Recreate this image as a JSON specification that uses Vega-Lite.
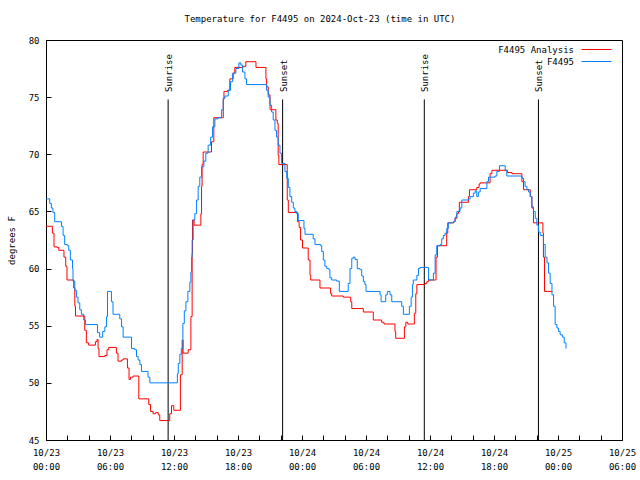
{
  "$schema": "https://vega.github.io/schema/vega-lite/v6.json",
  "width": 576,
  "height": 400,
  "autosize": {"type": "none"},
  "padding": {"left": 46, "top": 40, "right": 18, "bottom": 40},
  "background": "white",
  "title": {"text": "Temperature for F4495 on 2024-Oct-23 (time in UTC)", "fontSize": 9, "fontWeight": "normal", "color": "black", "anchor": "middle", "frame": "group", "dx": -14, "baseline": "alphabetic", "offset": 5},
  "config": {
    "font": "DejaVu Sans Mono",
    "view": {"stroke": "black", "strokeWidth": 1},
    "axis": {"grid": false, "domainColor": "black", "tickColor": "black", "labelColor": "black", "labelFontSize": 9, "titleFontSize": 9, "titleFontWeight": "normal", "titleColor": "black"}
  },
  "datasets": {
    "sun": [
      {"time": "2024-10-23T11:27:00Z", "event": "Sunrise"},
      {"time": "2024-10-23T22:11:00Z", "event": "Sunset"},
      {"time": "2024-10-24T11:28:00Z", "event": "Sunrise"},
      {"time": "2024-10-24T22:10:00Z", "event": "Sunset"}
    ],
    "analysis": [
      {"time": "2024-10-23T00:00:00Z", "temp": 63.7},
      {"time": "2024-10-23T00:36:00Z", "temp": 63.1},
      {"time": "2024-10-23T00:45:00Z", "temp": 61.9},
      {"time": "2024-10-23T01:02:00Z", "temp": 61.85},
      {"time": "2024-10-23T01:12:00Z", "temp": 61.6},
      {"time": "2024-10-23T01:41:00Z", "temp": 61.0},
      {"time": "2024-10-23T01:51:00Z", "temp": 60.2},
      {"time": "2024-10-23T01:58:00Z", "temp": 59.0},
      {"time": "2024-10-23T02:36:00Z", "temp": 58.3},
      {"time": "2024-10-23T02:42:00Z", "temp": 56.7},
      {"time": "2024-10-23T02:46:00Z", "temp": 55.85},
      {"time": "2024-10-23T03:38:00Z", "temp": 54.6},
      {"time": "2024-10-23T03:47:00Z", "temp": 53.5},
      {"time": "2024-10-23T04:00:00Z", "temp": 53.3},
      {"time": "2024-10-23T04:38:00Z", "temp": 53.6},
      {"time": "2024-10-23T04:47:00Z", "temp": 53.8},
      {"time": "2024-10-23T04:53:00Z", "temp": 53.0},
      {"time": "2024-10-23T04:58:00Z", "temp": 52.3},
      {"time": "2024-10-23T05:31:00Z", "temp": 52.4},
      {"time": "2024-10-23T05:43:00Z", "temp": 52.9},
      {"time": "2024-10-23T05:53:00Z", "temp": 53.1},
      {"time": "2024-10-23T06:36:00Z", "temp": 52.6},
      {"time": "2024-10-23T06:45:00Z", "temp": 51.9},
      {"time": "2024-10-23T07:05:00Z", "temp": 52.0},
      {"time": "2024-10-23T07:14:00Z", "temp": 52.1},
      {"time": "2024-10-23T07:38:00Z", "temp": 51.3},
      {"time": "2024-10-23T07:47:00Z", "temp": 50.3},
      {"time": "2024-10-23T07:55:00Z", "temp": 50.5},
      {"time": "2024-10-23T08:10:00Z", "temp": 50.6},
      {"time": "2024-10-23T08:42:00Z", "temp": 48.6},
      {"time": "2024-10-23T09:38:00Z", "temp": 48.1},
      {"time": "2024-10-23T09:48:00Z", "temp": 47.5},
      {"time": "2024-10-23T10:02:00Z", "temp": 47.3},
      {"time": "2024-10-23T10:16:00Z", "temp": 47.4},
      {"time": "2024-10-23T10:31:00Z", "temp": 47.2},
      {"time": "2024-10-23T10:40:00Z", "temp": 46.7},
      {"time": "2024-10-23T11:36:00Z", "temp": 47.3},
      {"time": "2024-10-23T11:46:00Z", "temp": 48.0},
      {"time": "2024-10-23T11:59:00Z", "temp": 47.6},
      {"time": "2024-10-23T12:36:00Z", "temp": 50.7},
      {"time": "2024-10-23T12:46:00Z", "temp": 53.75},
      {"time": "2024-10-23T12:51:00Z", "temp": 52.6},
      {"time": "2024-10-23T13:20:00Z", "temp": 52.9},
      {"time": "2024-10-23T13:35:00Z", "temp": 55.8},
      {"time": "2024-10-23T13:42:00Z", "temp": 61.3},
      {"time": "2024-10-23T13:44:00Z", "temp": 64.25},
      {"time": "2024-10-23T13:53:00Z", "temp": 63.8},
      {"time": "2024-10-23T14:31:00Z", "temp": 64.8},
      {"time": "2024-10-23T14:35:00Z", "temp": 67.2},
      {"time": "2024-10-23T14:38:00Z", "temp": 69.1},
      {"time": "2024-10-23T14:44:00Z", "temp": 70.2},
      {"time": "2024-10-23T15:31:00Z", "temp": 71.1},
      {"time": "2024-10-23T15:44:00Z", "temp": 73.2},
      {"time": "2024-10-23T16:37:00Z", "temp": 74.8},
      {"time": "2024-10-23T16:41:00Z", "temp": 75.5},
      {"time": "2024-10-23T17:01:00Z", "temp": 75.6},
      {"time": "2024-10-23T17:14:00Z", "temp": 76.6},
      {"time": "2024-10-23T17:33:00Z", "temp": 77.1},
      {"time": "2024-10-23T17:42:00Z", "temp": 77.6},
      {"time": "2024-10-23T18:29:00Z", "temp": 77.7},
      {"time": "2024-10-23T18:44:00Z", "temp": 78.1},
      {"time": "2024-10-23T19:41:00Z", "temp": 77.6},
      {"time": "2024-10-23T20:37:00Z", "temp": 76.6},
      {"time": "2024-10-23T20:41:00Z", "temp": 75.9},
      {"time": "2024-10-23T20:50:00Z", "temp": 75.2},
      {"time": "2024-10-23T21:00:00Z", "temp": 73.9},
      {"time": "2024-10-23T21:33:00Z", "temp": 73.0},
      {"time": "2024-10-23T21:41:00Z", "temp": 72.7},
      {"time": "2024-10-23T21:46:00Z", "temp": 69.9},
      {"time": "2024-10-23T21:50:00Z", "temp": 69.1},
      {"time": "2024-10-23T22:37:00Z", "temp": 66.0},
      {"time": "2024-10-23T22:43:00Z", "temp": 64.9},
      {"time": "2024-10-23T23:35:00Z", "temp": 64.1},
      {"time": "2024-10-23T23:44:00Z", "temp": 63.6},
      {"time": "2024-10-23T23:52:00Z", "temp": 62.5},
      {"time": "2024-10-24T00:03:00Z", "temp": 61.8},
      {"time": "2024-10-24T00:35:00Z", "temp": 60.75},
      {"time": "2024-10-24T00:45:00Z", "temp": 59.4},
      {"time": "2024-10-24T00:49:00Z", "temp": 59.0},
      {"time": "2024-10-24T01:41:00Z", "temp": 58.3},
      {"time": "2024-10-24T02:41:00Z", "temp": 57.8},
      {"time": "2024-10-24T02:47:00Z", "temp": 57.6},
      {"time": "2024-10-24T03:52:00Z", "temp": 57.5},
      {"time": "2024-10-24T04:34:00Z", "temp": 57.1},
      {"time": "2024-10-24T04:40:00Z", "temp": 56.5},
      {"time": "2024-10-24T05:45:00Z", "temp": 56.2},
      {"time": "2024-10-24T06:41:00Z", "temp": 55.5},
      {"time": "2024-10-24T07:28:00Z", "temp": 55.3},
      {"time": "2024-10-24T07:41:00Z", "temp": 55.15},
      {"time": "2024-10-24T08:43:00Z", "temp": 54.5},
      {"time": "2024-10-24T08:47:00Z", "temp": 53.9},
      {"time": "2024-10-24T09:36:00Z", "temp": 54.9},
      {"time": "2024-10-24T09:44:00Z", "temp": 55.3},
      {"time": "2024-10-24T09:55:00Z", "temp": 55.15},
      {"time": "2024-10-24T10:32:00Z", "temp": 56.1},
      {"time": "2024-10-24T10:40:00Z", "temp": 57.8},
      {"time": "2024-10-24T10:46:00Z", "temp": 58.6},
      {"time": "2024-10-24T11:32:00Z", "temp": 58.7},
      {"time": "2024-10-24T11:42:00Z", "temp": 58.85},
      {"time": "2024-10-24T11:51:00Z", "temp": 59.0},
      {"time": "2024-10-24T12:34:00Z", "temp": 61.0},
      {"time": "2024-10-24T12:42:00Z", "temp": 62.0},
      {"time": "2024-10-24T13:34:00Z", "temp": 63.1},
      {"time": "2024-10-24T13:40:00Z", "temp": 64.0},
      {"time": "2024-10-24T14:12:00Z", "temp": 64.1},
      {"time": "2024-10-24T14:21:00Z", "temp": 64.4},
      {"time": "2024-10-24T14:31:00Z", "temp": 64.8},
      {"time": "2024-10-24T14:40:00Z", "temp": 65.0},
      {"time": "2024-10-24T14:45:00Z", "temp": 65.8},
      {"time": "2024-10-24T15:36:00Z", "temp": 66.3},
      {"time": "2024-10-24T15:42:00Z", "temp": 66.9},
      {"time": "2024-10-24T16:23:00Z", "temp": 67.1},
      {"time": "2024-10-24T16:36:00Z", "temp": 67.4},
      {"time": "2024-10-24T16:42:00Z", "temp": 67.5},
      {"time": "2024-10-24T17:38:00Z", "temp": 68.3},
      {"time": "2024-10-24T17:48:00Z", "temp": 68.6},
      {"time": "2024-10-24T19:16:00Z", "temp": 68.4},
      {"time": "2024-10-24T19:41:00Z", "temp": 68.3},
      {"time": "2024-10-24T20:37:00Z", "temp": 67.6},
      {"time": "2024-10-24T20:46:00Z", "temp": 66.9},
      {"time": "2024-10-24T21:24:00Z", "temp": 66.3},
      {"time": "2024-10-24T21:33:00Z", "temp": 65.3},
      {"time": "2024-10-24T21:42:00Z", "temp": 64.0},
      {"time": "2024-10-24T22:35:00Z", "temp": 63.1},
      {"time": "2024-10-24T22:38:00Z", "temp": 61.0},
      {"time": "2024-10-24T22:44:00Z", "temp": 58.0},
      {"time": "2024-10-24T23:29:00Z", "temp": 58.0}
    ],
    "obs": [
      {"time": "2024-10-23T00:00:00Z", "temp": 66.1},
      {"time": "2024-10-23T00:21:00Z", "temp": 65.7},
      {"time": "2024-10-23T00:30:00Z", "temp": 65.3},
      {"time": "2024-10-23T00:39:00Z", "temp": 64.9},
      {"time": "2024-10-23T00:49:00Z", "temp": 64.1},
      {"time": "2024-10-23T01:27:00Z", "temp": 63.7},
      {"time": "2024-10-23T01:36:00Z", "temp": 62.9},
      {"time": "2024-10-23T01:45:00Z", "temp": 62.1},
      {"time": "2024-10-23T02:00:00Z", "temp": 62.0},
      {"time": "2024-10-23T02:08:00Z", "temp": 61.6},
      {"time": "2024-10-23T02:17:00Z", "temp": 60.75},
      {"time": "2024-10-23T02:29:00Z", "temp": 60.0},
      {"time": "2024-10-23T02:32:00Z", "temp": 58.9},
      {"time": "2024-10-23T02:42:00Z", "temp": 58.1},
      {"time": "2024-10-23T02:51:00Z", "temp": 57.5},
      {"time": "2024-10-23T03:00:00Z", "temp": 57.0},
      {"time": "2024-10-23T03:10:00Z", "temp": 56.4},
      {"time": "2024-10-23T03:19:00Z", "temp": 56.0},
      {"time": "2024-10-23T03:32:00Z", "temp": 55.5},
      {"time": "2024-10-23T03:42:00Z", "temp": 55.1},
      {"time": "2024-10-23T04:50:00Z", "temp": 54.4},
      {"time": "2024-10-23T05:02:00Z", "temp": 54.0},
      {"time": "2024-10-23T05:19:00Z", "temp": 54.5},
      {"time": "2024-10-23T05:31:00Z", "temp": 54.9},
      {"time": "2024-10-23T05:40:00Z", "temp": 55.8},
      {"time": "2024-10-23T05:46:00Z", "temp": 58.0},
      {"time": "2024-10-23T06:08:00Z", "temp": 57.1},
      {"time": "2024-10-23T06:17:00Z", "temp": 56.0},
      {"time": "2024-10-23T06:55:00Z", "temp": 55.6},
      {"time": "2024-10-23T07:05:00Z", "temp": 54.9},
      {"time": "2024-10-23T07:14:00Z", "temp": 54.0},
      {"time": "2024-10-23T08:01:00Z", "temp": 53.0},
      {"time": "2024-10-23T08:19:00Z", "temp": 52.9},
      {"time": "2024-10-23T08:29:00Z", "temp": 52.3},
      {"time": "2024-10-23T08:38:00Z", "temp": 52.0},
      {"time": "2024-10-23T08:48:00Z", "temp": 51.6},
      {"time": "2024-10-23T08:57:00Z", "temp": 51.0},
      {"time": "2024-10-23T09:34:00Z", "temp": 50.5},
      {"time": "2024-10-23T09:44:00Z", "temp": 50.0},
      {"time": "2024-10-23T12:19:00Z", "temp": 50.8},
      {"time": "2024-10-23T12:24:00Z", "temp": 51.7},
      {"time": "2024-10-23T12:33:00Z", "temp": 52.5},
      {"time": "2024-10-23T12:41:00Z", "temp": 53.0},
      {"time": "2024-10-23T12:50:00Z", "temp": 55.2},
      {"time": "2024-10-23T12:58:00Z", "temp": 56.3},
      {"time": "2024-10-23T13:07:00Z", "temp": 57.1},
      {"time": "2024-10-23T13:18:00Z", "temp": 58.0},
      {"time": "2024-10-23T13:29:00Z", "temp": 58.8},
      {"time": "2024-10-23T13:35:00Z", "temp": 59.7},
      {"time": "2024-10-23T13:39:00Z", "temp": 61.0},
      {"time": "2024-10-23T13:42:00Z", "temp": 62.5},
      {"time": "2024-10-23T13:48:00Z", "temp": 64.25},
      {"time": "2024-10-23T13:57:00Z", "temp": 64.8},
      {"time": "2024-10-23T14:07:00Z", "temp": 66.0},
      {"time": "2024-10-23T14:16:00Z", "temp": 67.2},
      {"time": "2024-10-23T14:25:00Z", "temp": 68.0},
      {"time": "2024-10-23T14:35:00Z", "temp": 68.9},
      {"time": "2024-10-23T14:48:00Z", "temp": 69.4},
      {"time": "2024-10-23T14:59:00Z", "temp": 70.1},
      {"time": "2024-10-23T15:12:00Z", "temp": 70.8},
      {"time": "2024-10-23T15:26:00Z", "temp": 71.5},
      {"time": "2024-10-23T15:37:00Z", "temp": 72.4},
      {"time": "2024-10-23T15:50:00Z", "temp": 73.1},
      {"time": "2024-10-23T16:08:00Z", "temp": 73.2},
      {"time": "2024-10-23T16:28:00Z", "temp": 73.9},
      {"time": "2024-10-23T16:37:00Z", "temp": 74.9},
      {"time": "2024-10-23T16:46:00Z", "temp": 75.1},
      {"time": "2024-10-23T17:05:00Z", "temp": 75.6},
      {"time": "2024-10-23T17:18:00Z", "temp": 76.35},
      {"time": "2024-10-23T17:30:00Z", "temp": 77.1},
      {"time": "2024-10-23T17:48:00Z", "temp": 77.5},
      {"time": "2024-10-23T18:05:00Z", "temp": 78.0},
      {"time": "2024-10-23T18:16:00Z", "temp": 77.8},
      {"time": "2024-10-23T18:26:00Z", "temp": 77.2},
      {"time": "2024-10-23T18:39:00Z", "temp": 76.6},
      {"time": "2024-10-23T18:48:00Z", "temp": 76.1},
      {"time": "2024-10-23T20:41:00Z", "temp": 75.6},
      {"time": "2024-10-23T20:50:00Z", "temp": 75.0},
      {"time": "2024-10-23T21:00:00Z", "temp": 74.3},
      {"time": "2024-10-23T21:09:00Z", "temp": 73.7},
      {"time": "2024-10-23T21:18:00Z", "temp": 73.0},
      {"time": "2024-10-23T21:28:00Z", "temp": 72.1},
      {"time": "2024-10-23T21:37:00Z", "temp": 71.5},
      {"time": "2024-10-23T21:46:00Z", "temp": 70.8},
      {"time": "2024-10-23T21:56:00Z", "temp": 70.1},
      {"time": "2024-10-23T22:05:00Z", "temp": 69.2},
      {"time": "2024-10-23T22:24:00Z", "temp": 68.5},
      {"time": "2024-10-23T22:34:00Z", "temp": 67.9},
      {"time": "2024-10-23T22:43:00Z", "temp": 67.1},
      {"time": "2024-10-23T22:52:00Z", "temp": 66.3},
      {"time": "2024-10-23T23:02:00Z", "temp": 65.8},
      {"time": "2024-10-23T23:11:00Z", "temp": 65.3},
      {"time": "2024-10-23T23:20:00Z", "temp": 65.0},
      {"time": "2024-10-23T23:30:00Z", "temp": 64.8},
      {"time": "2024-10-23T23:39:00Z", "temp": 64.2},
      {"time": "2024-10-24T00:11:00Z", "temp": 63.5},
      {"time": "2024-10-24T00:17:00Z", "temp": 63.0},
      {"time": "2024-10-24T01:03:00Z", "temp": 62.6},
      {"time": "2024-10-24T01:13:00Z", "temp": 62.1},
      {"time": "2024-10-24T01:45:00Z", "temp": 62.0},
      {"time": "2024-10-24T01:51:00Z", "temp": 61.5},
      {"time": "2024-10-24T02:00:00Z", "temp": 60.75},
      {"time": "2024-10-24T02:09:00Z", "temp": 60.2},
      {"time": "2024-10-24T02:19:00Z", "temp": 60.0},
      {"time": "2024-10-24T02:32:00Z", "temp": 59.9},
      {"time": "2024-10-24T02:37:00Z", "temp": 59.2},
      {"time": "2024-10-24T02:47:00Z", "temp": 59.0},
      {"time": "2024-10-24T03:15:00Z", "temp": 58.9},
      {"time": "2024-10-24T03:30:00Z", "temp": 58.0},
      {"time": "2024-10-24T04:20:00Z", "temp": 58.7},
      {"time": "2024-10-24T04:30:00Z", "temp": 60.0},
      {"time": "2024-10-24T04:40:00Z", "temp": 60.9},
      {"time": "2024-10-24T04:49:00Z", "temp": 61.0},
      {"time": "2024-10-24T04:58:00Z", "temp": 60.8},
      {"time": "2024-10-24T05:11:00Z", "temp": 60.0},
      {"time": "2024-10-24T05:26:00Z", "temp": 59.9},
      {"time": "2024-10-24T05:36:00Z", "temp": 59.35},
      {"time": "2024-10-24T05:45:00Z", "temp": 58.85},
      {"time": "2024-10-24T05:54:00Z", "temp": 58.6},
      {"time": "2024-10-24T06:00:00Z", "temp": 58.0},
      {"time": "2024-10-24T07:19:00Z", "temp": 57.7},
      {"time": "2024-10-24T07:25:00Z", "temp": 57.1},
      {"time": "2024-10-24T07:51:00Z", "temp": 57.7},
      {"time": "2024-10-24T08:00:00Z", "temp": 58.0},
      {"time": "2024-10-24T08:15:00Z", "temp": 57.7},
      {"time": "2024-10-24T08:25:00Z", "temp": 57.1},
      {"time": "2024-10-24T09:21:00Z", "temp": 56.7},
      {"time": "2024-10-24T09:30:00Z", "temp": 56.0},
      {"time": "2024-10-24T10:04:00Z", "temp": 56.7},
      {"time": "2024-10-24T10:14:00Z", "temp": 57.5},
      {"time": "2024-10-24T10:21:00Z", "temp": 58.6},
      {"time": "2024-10-24T10:26:00Z", "temp": 59.0},
      {"time": "2024-10-24T10:46:00Z", "temp": 59.4},
      {"time": "2024-10-24T10:55:00Z", "temp": 60.0},
      {"time": "2024-10-24T11:04:00Z", "temp": 60.1},
      {"time": "2024-10-24T11:52:00Z", "temp": 59.0},
      {"time": "2024-10-24T12:19:00Z", "temp": 59.6},
      {"time": "2024-10-24T12:29:00Z", "temp": 61.2},
      {"time": "2024-10-24T12:38:00Z", "temp": 62.0},
      {"time": "2024-10-24T12:57:00Z", "temp": 62.1},
      {"time": "2024-10-24T13:06:00Z", "temp": 62.6},
      {"time": "2024-10-24T13:15:00Z", "temp": 62.9},
      {"time": "2024-10-24T13:25:00Z", "temp": 63.1},
      {"time": "2024-10-24T13:34:00Z", "temp": 63.5},
      {"time": "2024-10-24T13:43:00Z", "temp": 64.0},
      {"time": "2024-10-24T14:12:00Z", "temp": 64.1},
      {"time": "2024-10-24T14:21:00Z", "temp": 64.5},
      {"time": "2024-10-24T14:31:00Z", "temp": 65.0},
      {"time": "2024-10-24T14:49:00Z", "temp": 65.3},
      {"time": "2024-10-24T14:59:00Z", "temp": 66.0},
      {"time": "2024-10-24T15:36:00Z", "temp": 66.1},
      {"time": "2024-10-24T15:46:00Z", "temp": 66.3},
      {"time": "2024-10-24T16:04:00Z", "temp": 66.6},
      {"time": "2024-10-24T16:14:00Z", "temp": 66.8},
      {"time": "2024-10-24T16:23:00Z", "temp": 66.3},
      {"time": "2024-10-24T16:32:00Z", "temp": 66.7},
      {"time": "2024-10-24T16:42:00Z", "temp": 67.0},
      {"time": "2024-10-24T17:20:00Z", "temp": 67.6},
      {"time": "2024-10-24T17:29:00Z", "temp": 68.0},
      {"time": "2024-10-24T18:06:00Z", "temp": 68.1},
      {"time": "2024-10-24T18:16:00Z", "temp": 68.5},
      {"time": "2024-10-24T18:31:00Z", "temp": 69.0},
      {"time": "2024-10-24T19:03:00Z", "temp": 68.6},
      {"time": "2024-10-24T19:12:00Z", "temp": 68.1},
      {"time": "2024-10-24T20:37:00Z", "temp": 67.9},
      {"time": "2024-10-24T20:46:00Z", "temp": 67.6},
      {"time": "2024-10-24T20:55:00Z", "temp": 67.2},
      {"time": "2024-10-24T21:05:00Z", "temp": 66.9},
      {"time": "2024-10-24T21:14:00Z", "temp": 66.7},
      {"time": "2024-10-24T21:24:00Z", "temp": 66.3},
      {"time": "2024-10-24T21:33:00Z", "temp": 65.4},
      {"time": "2024-10-24T21:42:00Z", "temp": 65.0},
      {"time": "2024-10-24T21:52:00Z", "temp": 64.4},
      {"time": "2024-10-24T22:01:00Z", "temp": 63.8},
      {"time": "2024-10-24T22:10:00Z", "temp": 63.2},
      {"time": "2024-10-24T22:20:00Z", "temp": 62.9},
      {"time": "2024-10-24T22:38:00Z", "temp": 62.1},
      {"time": "2024-10-24T22:48:00Z", "temp": 61.0},
      {"time": "2024-10-24T22:58:00Z", "temp": 60.5},
      {"time": "2024-10-24T23:07:00Z", "temp": 59.6},
      {"time": "2024-10-24T23:16:00Z", "temp": 58.7},
      {"time": "2024-10-24T23:26:00Z", "temp": 57.7},
      {"time": "2024-10-24T23:35:00Z", "temp": 56.7},
      {"time": "2024-10-24T23:44:00Z", "temp": 55.1},
      {"time": "2024-10-24T23:54:00Z", "temp": 54.8},
      {"time": "2024-10-25T00:03:00Z", "temp": 54.5},
      {"time": "2024-10-25T00:12:00Z", "temp": 54.2},
      {"time": "2024-10-25T00:25:00Z", "temp": 54.0},
      {"time": "2024-10-25T00:35:00Z", "temp": 53.5},
      {"time": "2024-10-25T00:45:00Z", "temp": 53.0}
    ]
  },
  "layer": [
    {
      "data": {"name": "sun"},
      "mark": {"type": "rule", "color": "black", "strokeWidth": 1},
      "encoding": {
        "x": {
          "field": "time", "type": "temporal",
          "scale": {"type": "utc", "nice": false, "domain": [{"year": 2024, "month": 10, "date": 23, "hours": 0, "utc": true}, {"year": 2024, "month": 10, "date": 25, "hours": 6, "utc": true}]},
          "axis": {
            "orient": "bottom", "title": null, "tickSize": -5, "tickCount": 40, "labelPadding": 13, "labelOverlap": false, "labelFlush": false, "labelBound": false, "labelLineHeight": 14,
            "values": [
              {"year": 2024, "month": 10, "date": 23, "hours": 0, "utc": true},
              {"year": 2024, "month": 10, "date": 23, "hours": 2, "utc": true},
              {"year": 2024, "month": 10, "date": 23, "hours": 4, "utc": true},
              {"year": 2024, "month": 10, "date": 23, "hours": 6, "utc": true},
              {"year": 2024, "month": 10, "date": 23, "hours": 8, "utc": true},
              {"year": 2024, "month": 10, "date": 23, "hours": 10, "utc": true},
              {"year": 2024, "month": 10, "date": 23, "hours": 12, "utc": true},
              {"year": 2024, "month": 10, "date": 23, "hours": 14, "utc": true},
              {"year": 2024, "month": 10, "date": 23, "hours": 16, "utc": true},
              {"year": 2024, "month": 10, "date": 23, "hours": 18, "utc": true},
              {"year": 2024, "month": 10, "date": 23, "hours": 20, "utc": true},
              {"year": 2024, "month": 10, "date": 23, "hours": 22, "utc": true},
              {"year": 2024, "month": 10, "date": 24, "hours": 0, "utc": true},
              {"year": 2024, "month": 10, "date": 24, "hours": 2, "utc": true},
              {"year": 2024, "month": 10, "date": 24, "hours": 4, "utc": true},
              {"year": 2024, "month": 10, "date": 24, "hours": 6, "utc": true},
              {"year": 2024, "month": 10, "date": 24, "hours": 8, "utc": true},
              {"year": 2024, "month": 10, "date": 24, "hours": 10, "utc": true},
              {"year": 2024, "month": 10, "date": 24, "hours": 12, "utc": true},
              {"year": 2024, "month": 10, "date": 24, "hours": 14, "utc": true},
              {"year": 2024, "month": 10, "date": 24, "hours": 16, "utc": true},
              {"year": 2024, "month": 10, "date": 24, "hours": 18, "utc": true},
              {"year": 2024, "month": 10, "date": 24, "hours": 20, "utc": true},
              {"year": 2024, "month": 10, "date": 24, "hours": 22, "utc": true},
              {"year": 2024, "month": 10, "date": 25, "hours": 0, "utc": true},
              {"year": 2024, "month": 10, "date": 25, "hours": 2, "utc": true},
              {"year": 2024, "month": 10, "date": 25, "hours": 4, "utc": true},
              {"year": 2024, "month": 10, "date": 25, "hours": 6, "utc": true}
            ],
            "labelExpr": "utchours(datum.value) % 6 == 0 ? [utcFormat(datum.value, '%m/%d'), utcFormat(datum.value, '%H:%M')] : ''"
          }
        },
        "y": {
          "datum": 45, "type": "quantitative",
          "scale": {"domain": [45, 80], "nice": false, "zero": false},
          "axis": {"orient": "left", "title": "degrees F", "values": [45, 50, 55, 60, 65, 70, 75, 80], "tickSize": -5, "labelPadding": 12, "titleAngle": 270, "titleX": -35, "titleY": 200, "titleAlign": "center", "titleBaseline": "middle"}
        },
        "y2": {"datum": 74.8}
      }
    },
    {
      "data": {"name": "sun"},
      "mark": {"type": "text", "angle": 270, "align": "left", "baseline": "middle", "fontSize": 9, "color": "black", "dy": 1},
      "encoding": {
        "x": {"field": "time", "type": "temporal"},
        "y": {"datum": 75.45, "type": "quantitative"},
        "text": {"field": "event"}
      }
    },
    {
      "data": {"name": "analysis"},
      "mark": {"type": "line", "interpolate": "step-after", "strokeWidth": 1},
      "encoding": {
        "x": {"field": "time", "type": "temporal"},
        "y": {"field": "temp", "type": "quantitative"},
        "color": {
          "datum": "F4495 Analysis",
          "scale": {"domain": ["F4495 Analysis", "F4495"], "range": ["#ff0000", "#0080ff"]},
          "legend": {"orient": "none", "legendX": 544, "legendY": 3, "title": null, "symbolType": "M-2.5,0H2.5", "symbolSize": 144, "symbolStrokeWidth": 1, "labelAlign": "right", "labelOffset": -29, "labelFontSize": 9, "labelColor": "black", "rowPadding": 0, "padding": 0}
        }
      }
    },
    {
      "data": {"name": "obs"},
      "mark": {"type": "line", "interpolate": "step-after", "strokeWidth": 1},
      "encoding": {
        "x": {"field": "time", "type": "temporal"},
        "y": {"field": "temp", "type": "quantitative"},
        "color": {"datum": "F4495"}
      }
    }
  ]
}
